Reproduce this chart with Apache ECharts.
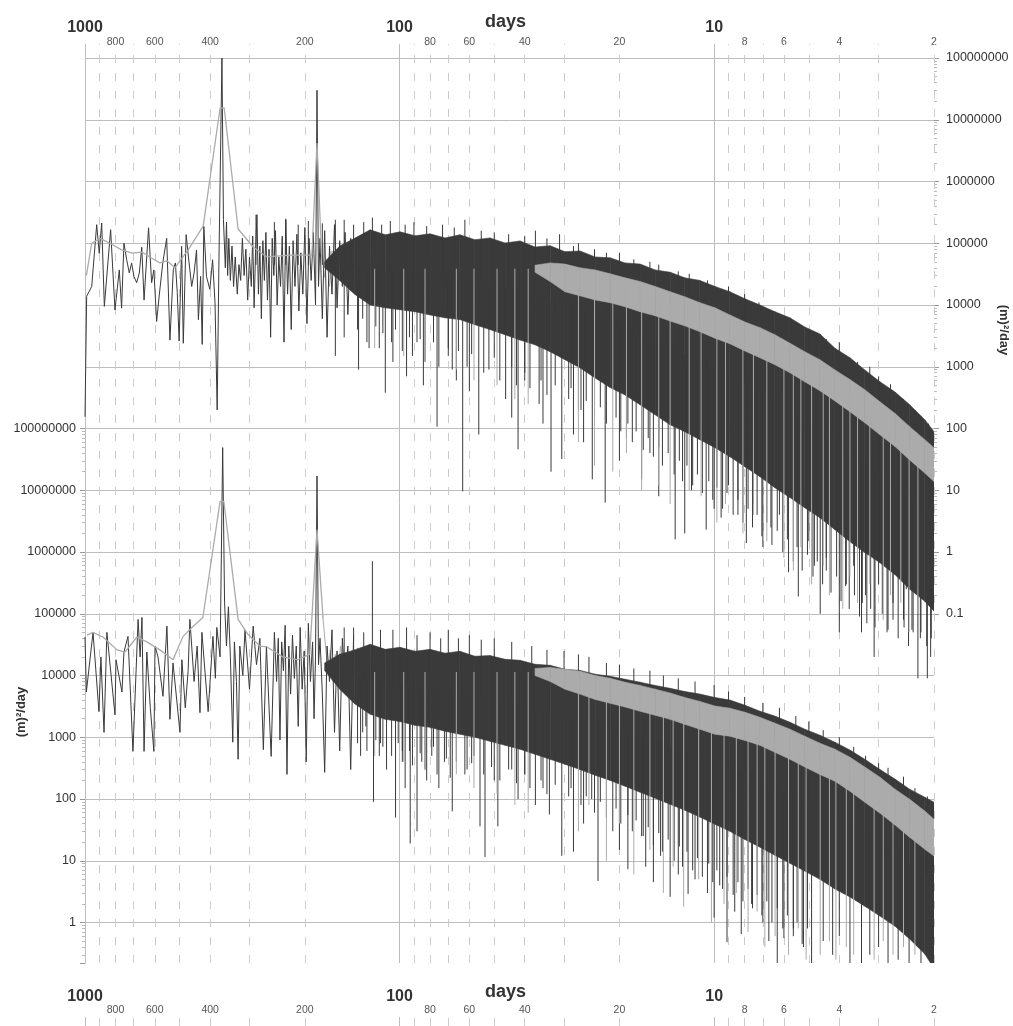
<!DOCTYPE html>
<html>
<head>
<meta charset="utf-8">
<title>spectra</title>
<script src="https://cdn.jsdelivr.net/npm/echarts@6/dist/echarts.min.js"></script>
<style>
html, body { margin: 0; padding: 0; background: #fff; }
#chart { width: 1013px; height: 1026px; }
</style>
</head>
<body>
<div id="chart"></div>
<script>
// period axis (days)
var majorDays = [1000, 100, 10];
var minorDays = [900, 800, 700, 600, 500, 400, 300, 200, 90, 80, 70, 60, 50, 40, 30, 20, 9, 8, 7, 6, 5, 4, 3, 2];
var minorDayLabels = [800, 600, 400, 200, 80, 60, 40, 20, 8, 6, 4, 2];

// periods where the dense part of the spectra was read (upper / lower edge)
var bandDays = [173, 155, 139, 124, 111, 99.7, 89.3, 80, 71.7, 64.3, 57.6, 51.6, 46.2, 41.4, 37.1,
  33.2, 29.8, 26.7, 23.9, 21.4, 19.2, 17.2, 15.4, 13.8, 12.4, 11.1, 9.94, 8.91, 7.98, 7.15, 6.41, 5.74, 5.15, 4.61, 4.13,
  3.70, 3.32, 2.97, 2.66, 2.39, 2.14, 2.00];
var grayBandDays = [37.1, 33.2, 29.8, 26.7, 23.9, 21.4, 19.2, 17.2, 15.4, 13.8, 12.4, 11.1, 9.94, 8.91, 7.98, 7.15, 6.41,
  5.74, 5.15, 4.61, 4.13, 3.70, 3.32, 2.97, 2.66, 2.39, 2.14, 2.00];

// ---------- upper spectrum (right axis)
var topDarkLine = [[1000,155],[988,13800],[952,20000],[918,200000],[901,69000],[885,213000],[868,9500],[829,166000],[803,8300],
  [778,37000],[765,8900],[752,100000],[737,54000],[723,33000],[711,48000],[699,29000],[685,23000],[672,33000],[660,86000],
  [649,12000],[628,178000],[614,23000],[604,37000],[592,5400],[581,14000],[566,48000],[550,120000],[537,2700],[524,37000],
  [516,48000],[509,16000],[502,2600],[493,89000],[487,2400],[477,138000],[469,60000],[458,20000],[450,33000],[442,78000],
  [436,5800],[429,29000],[424,2300],[419,187000],[411,29000],[401,18000],[393,54000],[386,10700],[380,200],[375,60000],
  [367,1e8],[363,240000],[358,40000],[355,220000],[352,30000],[349,120000],[345,25000],[341,90000],[337,20000],[333,60000],
  [328,15000],[324,45000],[320,25000],[316,120000],[312,30000],[308,80000],[304,12000],[300,60000],
  [296,20000],[293,130000],[290,9000],[287,70000],[284,290000],[281,15000],[278,90000],[275,6000],[272,110000],[269,25000],
  [266,150000],[263,12000],[260,80000],[257,3000],[254,120000],[251,30000],[248,160000],[245,10000],[242,60000],[239,20000],
  [236,130000],[233,2500],[230,240000],[227,15000],[224,90000],[221,4000],[218,110000],[215,20000],[212,140000],[209,8000],
  [206,70000],[203,15000],[200,180000],[197,5000],[194,120000],[191,25000],[188,150000],[185,10000],[183,3e7],[181,20000],
  [179,120000],[176,6000],[173,160000],[170,3000],[167,90000],[164,15000],[161,200000],[158,9000],[155,110000],[152,20000],
  [149,150000],[146,7000],[143,120000],[140,25000]];
var topGrayLine = [[990,30000],[952,100000],[896,120000],[833,100000],[765,78000],[709,69000],[659,72000],[622,60000],
  [578,48000],[549,52000],[518,40000],[470,78000],[421,190000],[372,1.55e7],[361,1.55e7],[326,170000],[292,87000],
  [264,60000],[223,64000],[190,64000],[183,4.2e6],[177,64000]];
var topGrayNoise = [[177,64000],[173,28000],[170,55000],[167,20000],[164,75000],[161,35000],
  [158,18000],[155,60000],[152,30000],[149,85000],[146,22000],[143,45000],[140,16000],[137,70000],[134,30000],[131,50000],
  [128,19000],[125,65000],[122,25000],[119,90000],[116,30000],[113,20000],[110,60000],[107,28000],[104,75000],[101,17000],
  [98,50000],[95,30000],[92,80000],[89,22000],[86,55000],[83,18000],[80,60000],[77,35000],[74,70000],[71,20000],[68,45000],
  [65,25000],[62,75000],[59,18000],[56,50000],[54,28000],[52,65000],[50,20000],[48,45000],[46,24000],[44,60000],[42,26000],
  [40,48000],[38,22000],[36,50000],[34,30000]];
var topDarkHigh = [5e4, 9e4, 1.2e5, 1.65e5, 1.37e5, 1.53e5, 1.32e5, 1.42e5,
  1.22e5, 1.37e5, 1.14e5, 1.22e5, 1.01e5, 1.09e5, 8.7e4, 9.1e4, 7.3e4, 7.5e4, 6.0e4, 5.8e4, 4.8e4, 4.6e4, 3.7e4, 3.4e4,
  2.75e4, 2.5e4, 2.0e4, 1.64e4, 1.26e4, 1.0e4, 7.8e3, 6.2e3, 4.4e3, 3.4e3, 2.0e3, 1.4e3, 890, 570, 390, 243, 139, 89];
var topDarkLow = [4e4, 2.5e4, 1.5e4, 1.0e4, 9.0e3, 8.4e3, 7.8e3, 6.9e3, 6.2e3,
  5.8e3, 4.8e3, 4.0e3, 3.3e3, 2.7e3, 2.27e3, 1.75e3, 1.3e3, 960, 660, 460, 350, 243, 167, 115, 89, 66, 49, 35, 24, 16.6, 11,
  7.6, 5.2, 3.6, 2.3, 1.47, 0.98, 0.67, 0.43, 0.25, 0.16, 0.11];
var topGrayHigh = [4.4e4, 4.8e4, 4.6e4, 4.0e4, 3.7e4, 3.2e4, 2.75e4, 2.4e4, 2.0e4, 1.64e4, 1.36e4, 1.09e4, 9.0e3, 6.9e3,
  5.3e3, 4.3e3, 3.3e3, 2.4e3, 1.75e3, 1.3e3, 890, 620, 425, 270, 175, 107, 66, 49];
var topGrayLow = [3.4e4, 2.4e4, 1.64e4, 1.41e4, 1.21e4, 1.09e4, 9.4e3, 7.8e3, 6.7e3, 5.5e3, 4.6e3, 3.7e3, 2.9e3, 2.36e3,
  1.8e3, 1.4e3, 1.08e3, 800, 570, 410, 280, 187, 124, 79, 51, 31, 19, 13.8];
var topDarkSpikes = [[286,2.9e5],[250,2.2e5],[230,2.5e5],[210,2.0e5],[195,2.3e5],[176,2.1e5],[160,2.4e5],
  [150,2.4e5],[140,2.0e5],[130,2.2e5],[122,2.6e5],[114,2.0e5],[107,2.3e5],[96,2.0e5],[90,2.2e5],[82,1.9e5],[73,2.0e5],
  [67,1.8e5],[62,2.4e5],[55,1.6e5],[50,1.5e5],[45,1.4e5],[40,1.3e5],[37,1.6e5],[34,1.2e5],[31,1.4e5],[28,9e4],[27,1.0e5],
  [24,8e4],[22,7e4],[20,7e4],[18,5.5e4],[16,5e4],[15,4.5e4],[13,3.5e4],[12,3.2e4],[10.5,2.5e4],[9,2e4],[8,1.5e4],
  [7.2,1.1e4],[6.5,8e3],[5.8,6e3],[5,4e3],[4.4,2.8e3],[4,2.5e3],[3.5,1.2e3],[3.2,1.0e3],[3,700],[2.75,520],[2.5,300],
  [2.3,200],[2.2,160],[2.08,120],
  [111,380],[76,107],[63,9.6],[56,80],[42,46],[33,20],[30.5,32],[24.4,15],[22.2,6.3],[13.3,1.6],[12.4,2],[10.6,2.3],
  [9.5,3.6],[7.9,1.4],[7.0,1.2],[5.8,0.47],[5.4,0.19],[4.6,0.10],[4.0,0.05],[3.4,0.05],[3.1,0.02],[2.8,0.055],[2.35,0.055],
  [2.25,0.009],[2.1,0.009],[160,1500],[150,3000],[135,900],[125,2000],[105,1200],[95,700],[88,2500],[84,500],[70,1500],
  [66,600],[60,400],[52,900],[46,300],[44,150],[40,600],[36,250],[35,120],[28,80],[27,200],[26,60],[20,30],[19,70],[17,15],
  [16,40],[15,8],[11.8,10],[10,5],[9,12],[8.4,4],[7.5,6],[6.6,2.5],[6.2,4],[5,1.5],[4.8,0.6],[4.4,0.8],[3.8,0.3],[3.6,0.6],
  [3.3,0.2],[3.0,0.3],[2.7,0.15],[2.5,0.08],[2.45,0.25],[2.2,0.05],[2.05,0.02]];
var topDarkFuzz = [[136,4000],[131,6000],[127,2500],[119,4500],[116,2000],[113,3500],[106,2500],[103,4000],[98,1800],
  [93,3000],[91,1500],[86,2800],[83,1200],[78,2500],[75,1000],[70,2000],[68,900],[65,1800],[61,1000],[59,1600],[54,800],
  [50,1400],[48,600],[44,1000],[42.5,500],[40,800],[38.5,450],[35.5,600],[34,350],[32,500],[29,300],[28.5,450],[26.5,200],
  [25.5,280],[24,150],[23,220],[22,120],[20.5,150],[19.8,90],[18.8,120],[18.2,60],[17.7,90],[16.8,45],[16.2,70],[15.6,35],
  [15,50],[14.6,25],[14,40],[13.4,18],[12.9,30],[12.6,14],[12.2,25],[11.7,12],[11.3,18],[10.9,9],[10.4,14],[10.1,7],
  [9.8,11],[9.4,5],[9.1,9],[8.7,4],[8.4,7],[8.1,3],[7.8,5],[7.55,2.5],[7.3,4],[7.05,1.8],[6.8,3],[6.55,1.3],[6.3,2.2],
  [6.05,1],[5.85,1.6],[5.6,0.7],[5.45,1.2],[5.25,0.5],[5.05,0.9],[4.85,0.4],[4.7,0.7],[4.52,0.3],[4.4,0.5],[4.25,0.22],
  [4.08,0.4],[3.95,0.16],[3.82,0.28],[3.72,0.12],[3.58,0.2],[3.45,0.09],[3.38,0.15],[3.27,0.07],[3.18,0.12],[3.08,0.06],
  [2.92,0.1],[2.82,0.05],[2.7,0.08],[2.6,0.04],[2.49,0.06],[2.41,0.03],[2.33,0.05],[2.21,0.04],[2.11,0.03],[2.04,0.04]];
var topGraySpikes = [[120,2000],[97,1500],[83,1200],[66,900],[58,600],[49,500],[43,300],[39,250],
  [27,60],[24,25],[21,20],[19,40],[17,10],[15,12],[13.8,6],[12,10],[11,8],[9.8,3],[9.2,6],[8.1,2],[7.5,4],
  [6.8,1.5],[6.0,0.8],[5.6,0.5],[5.3,1.2],[4.9,0.3],[4.5,0.6],[4.3,0.2],[3.9,0.12],[3.7,0.4],[3.5,0.15],[3.2,0.3],[2.9,0.08],
  [2.75,0.2],[2.55,0.15],[2.4,0.05],[2.25,0.1]];

// ---------- lower spectrum (left axis)
var botDarkLine = [[1000,42000],[990,5400],[943,50000],[903,2600],[890,20000],[870,1200],[852,50000],[803,2300],[797,18000],
  [763,5400],[752,24000],[730,43000],[704,590],[678,81000],[668,20000],[659,87000],[649,590],[636,24000],[620,3000],[604,590],
  [599,30000],[586,20000],[565,4600],[549,63000],[537,1950],[525,16000],[499,1200],[492,18000],[480,3000],[470,12000],
  [464,81000],[450,8000],[440,30000],[431,2500],[425,50000],[406,2600],[392,43000],[385,9000],[381,60000],[372,20000],
  [365,4.9e7],[360,150000],[355,30000],[350,130000],[345,20000],[339,830],[335,35000],[330,8000],[326,440],[322,30000],
  [315,10000],[310,55000],[300,6000],[292,63000],[285,15000],[278,40000],[271,630],[265,30000],[256,490],[250,50000],
  [246,8000],[243,40000],[240,900],[237,35000],[234,12000],[231,65000],[228,250],[225,30000],[222,5000],[219,45000],
  [216,9000],[213,30000],[210,1500],[207,60000],[204,6000],[201,25000],[198,400],[195,70000],[192,8000],[189,35000],
  [187,2000],[185,20000],[183,1.7e7],[181,15000],[179,40000],[176,5000],[173,270],[170,30000],[167,8000],[164,55000],
  [161,1200],[158,25000],[155,600],[152,40000],[149,7000],[146,30000],[143,300],[140,45000]];
var botGrayLine = [[985,45000],[943,50000],[877,42000],[791,26000],[746,24000],[684,42000],[636,35000],[578,26000],
  [525,18000],[488,43000],[457,60000],[422,87000],[372,6.6e6],[362,6.6e6],[326,81000],[303,46000],[278,30000],[264,29000],
  [235,20000],[211,18000],[193,22000],[183,2.3e6],[175,81000]];
var botGrayNoise = [[175,81000],[172,30000],[169,12000],[166,26000],[163,8000],[160,22000],
  [157,11000],[154,30000],[151,9000],[148,18000],[145,7000],[142,25000],[139,12000],[136,28000],[133,8000],[130,20000],
  [127,10000],[124,27000],[121,7500],[118,19000],[115,11000],[112,26000],[109,8000],[106,21000],[103,6500],[100,24000],
  [97,10000],[94,20000],[91,7000],[88,25000],[85,9000],[82,18000],[79,6500],[76,22000],[73,9500],[70,17000],[67,6000],
  [64,21000],[61,8500],[58,19000],[55,7000],[52,16000],[50,9000],[48,18000],[46,6500],[44,15000],[42,8000],[40,16000],
  [38,7500],[36,14000],[34,9000]];
var botDarkHigh = [1.6e4, 2.2e4, 2.6e4, 3.2e4, 2.65e4, 2.86e4, 2.47e4, 2.65e4, 2.3e4,
  2.47e4, 2.05e4, 2.1e4, 1.83e4, 1.76e4, 1.52e4, 1.46e4, 1.26e4, 1.21e4, 1.05e4, 9.7e3, 8.7e3, 7.8e3, 6.9e3, 6.2e3, 5.5e3,
  5.0e3, 4.4e3, 4.0e3, 3.3e3, 2.64e3, 2.2e3, 1.75e3, 1.35e3, 1.08e3, 830, 620, 440, 300, 210, 144, 107, 89];
var botDarkLow = [1.2e4, 6e3, 3.5e3, 2.36e3, 1.95e3, 1.8e3, 1.56e3, 1.45e3, 1.25e3,
  1.12e3, 1.0e3, 860, 740, 640, 530, 440, 365, 300, 243, 200, 161, 129, 103, 82, 66, 51, 39, 30, 22, 16.6, 12.3, 9.1, 6.8,
  5.0, 3.5, 2.6, 1.84, 1.27, 0.87, 0.54, 0.31, 0.18];
var botGrayHigh = [1.3e4, 1.35e4, 1.26e4, 1.17e4, 1.0e4, 9.0e3, 7.8e3, 6.9e3, 6.0e3, 5.2e3, 4.4e3, 3.8e3, 3.2e3, 2.95e3,
  2.54e3, 2.1e3, 1.69e3, 1.35e3, 1.04e3, 800, 640, 475, 330, 225, 144, 99, 64, 47];
var botGrayLow = [1.0e4, 8.0e3, 6.0e3, 5.0e3, 4.1e3, 3.55e3, 3.1e3, 2.64e3, 2.27e3, 1.95e3, 1.62e3, 1.35e3, 1.12e3, 1.04e3,
  890, 740, 570, 440, 330, 250, 194, 134, 89, 59, 38, 24, 15.4, 11.9];
var botDarkSpikes = [[122,7.1e5],[150,6e4],
  [140,6e4],[130,5e4],[115,5.5e4],[105,5.5e4],[95,6e4],[88,4.5e4],[80,5e4],[74,4e4],[70,5.5e4],[65,4e4],[60,4.5e4],
  [55,3.8e4],[50,4e4],[44,3.5e4],[38,3e4],[34,2.6e4],[30,2.5e4],[27,2.2e4],[25,2e4],[22,1.6e4],[20,1.5e4],[18,1.3e4],
  [16,1.2e4],[14.5,1e4],[13,9e3],[11.5,8e3],[10,7e3],[9,5.5e3],[8,4.5e3],[7,3.6e3],[6.2,3e3],[5.5,2.2e3],[5,1.8e3],
  [4.5,1.3e3],[4,1e3],[3.6,700],[3.3,500],[3,380],[2.8,320],[2.5,230],[2.3,150],[2.1,110],
  [121,90],[103,50],[92.5,19],[88,30],[68,63],[55.5,36],[53.5,11.5],[48.7,36],[33.4,56],[30.5,12],[28,14],[23.4,4.7],
  [18.8,7.3],[15.6,4.5],[13.8,2.6],[12.1,2.9],[10,1.2],[9.1,0.48],[8.2,0.65],[6.3,0.1],[6.0,0.56],[4.9,0.1],[4.2,0.3],
  [3.7,0.2],[3.4,0.2],[2.8,0.1],[2.4,0.1],[133,500],[128,1500],[115,800],[110,300],[98,600],[96,150],[85,400],[82,200],
  [78,700],[75,150],[72,400],[62,250],[58,500],[50,200],[45,300],[42,100],[40,250],[37,80],[35,150],[26,40],[24.5,100],
  [21,30],[20,15],[17,25],[16.5,8],[14.8,12],[13,6],[11.5,5],[10.5,3],[9.6,4],[8.6,1.5],[7.6,2],[7,1],[6.7,0.5],[5.6,0.8],
  [5.2,0.4],[4.5,0.5],[4,0.6],[3.2,0.3],[3,0.4],[2.6,0.25],[2.2,0.2]];
var botDarkFuzz = [[136,800],[131,1200],[127,600],[119,900],[116,500],[113,700],[106,500],[101,800],[98,400],[93,600],
  [91,350],[86,550],[83,300],[79,500],[76,250],[71,450],[69,220],[66,400],[61,300],[59,380],[54,250],[51,330],[48,200],
  [44,300],[42.5,180],[40,250],[38.5,150],[35.5,200],[34,120],[32,170],[29,110],[28.5,150],[26.5,80],[25.5,110],[24,60],
  [23,90],[22,50],[20.5,70],[19.8,40],[18.8,55],[18.2,30],[17.7,45],[16.8,25],[16.2,35],[15.6,18],[15,28],[14.6,14],[14,22],
  [13.4,10],[12.9,17],[12.6,8],[12.2,14],[11.7,7],[11.3,11],[10.9,5.5],[10.4,9],[10.1,4.5],[9.8,7],[9.4,3.5],[9.1,5.5],
  [8.7,2.8],[8.4,4.5],[8.1,2.2],[7.8,3.5],[7.55,1.7],[7.3,2.8],[7.05,1.3],[6.8,2.2],[6.55,1],[6.3,1.7],[6.05,0.8],
  [5.85,1.3],[5.6,0.6],[5.45,1],[5.25,0.45],[5.05,0.8]];
var botGraySpikes = [[120,500],[97,400],[83,300],[66,250],[58,150],[49,120],[43,80],[39,60],
  [27,30],[25,80],[22,10],[20,40],[18,6],[16,15],[14.5,3],[13.5,8],[12.5,1.8],[11.2,5],[10.2,1],[9.3,2],
  [8.5,3],[7.8,0.7],[7.3,1.5],[6.9,0.4],[6.4,0.6],[5.8,0.3],[5.4,0.8],[5.1,0.25],[4.6,0.3],[4.3,0.5],[4.1,0.25],[3.8,0.4],
  [3.6,0.3],[3.1,0.25],[2.9,0.5],[2.7,0.3],[2.5,0.4],[2.3,0.3]];

var DARK = '#3a3a3a';
var GRAY = '#ababab';
var FONT = 'Arial, "Liberation Sans", sans-serif';

function decadeLabel(v) {
  var e = Math.log10(v);
  if (Math.abs(e - Math.round(e)) > 1e-6) return '';
  e = Math.round(e);
  return e >= 0 ? String(Math.pow(10, e)) : Math.pow(10, e).toFixed(-e);
}

function nearestIndex(days, d) {
  var best = 0, bestDist = Infinity;
  for (var i = 0; i < days.length; i++) {
    var dist = Math.abs(Math.log(days[i] / d));
    if (dist < bestDist) { bestDist = dist; best = i; }
  }
  return best;
}

function dayAxis(idx) {
  return { gridIndex: idx, type: 'log', logBase: 10, min: 2, max: 1000, inverse: true, show: false };
}

function dayGridLines(idx) {
  var items = majorDays.map(function (d) {
    return { xAxis: d, lineStyle: { type: 'solid', color: '#bdbdbd', width: 1 } };
  }).concat(minorDays.map(function (d) {
    return { xAxis: d, lineStyle: { type: [8, 10], color: '#cccccc', width: 1 } };
  }));
  return {
    type: 'line', xAxisIndex: idx, yAxisIndex: idx, data: [], silent: true, z: 1,
    markLine: { symbol: ['none', 'none'], silent: true, animation: false, z: 1, label: { show: false }, data: items }
  };
}

function band(idx, days, high, low, color) {
  return {
    type: 'custom', xAxisIndex: idx, yAxisIndex: idx, clip: true, silent: true, z: 3,
    data: days.map(function (d, i) { return [d, high[i], low[i]]; }),
    encode: { x: 0, y: [1, 2] },
    renderItem: function (params, api) {
      var i = params.dataIndex;
      if (i === 0) return null;
      var pts = [api.coord([days[i - 1], high[i - 1]]), api.coord([days[i], high[i]]),
        api.coord([days[i], low[i]]), api.coord([days[i - 1], low[i - 1]])];
      return { type: 'polygon', shape: { points: pts }, style: { fill: color, stroke: color, lineWidth: 0.6 } };
    }
  };
}

function spikes(idx, list, days, high, low, color) {
  return {
    type: 'custom', xAxisIndex: idx, yAxisIndex: idx, clip: true, silent: true, z: 3,
    data: list, encode: { x: 0, y: 1 },
    renderItem: function (params, api) {
      var d = api.value(0), v = api.value(1);
      var j = nearestIndex(days, d);
      var base = Math.sqrt(high[j] * low[j]);
      var a = api.coord([d, v]), b = api.coord([d, base]);
      return { type: 'line', shape: { x1: a[0], y1: a[1], x2: b[0], y2: b[1] }, style: { stroke: color, lineWidth: 1 } };
    }
  };
}

function trace(idx, data, color, width, z) {
  return {
    type: 'line', xAxisIndex: idx, yAxisIndex: idx, data: data, showSymbol: false, symbol: 'none',
    silent: true, z: z, lineStyle: { color: color, width: width }
  };
}

var decade = 61.75;
var nameGraphics = [
  { type: 'text', x: 21, y: 712, rotation: Math.PI / 2,
    style: { text: '(m)²/day', font: 'bold 13px ' + FONT, fill: '#333', align: 'center', verticalAlign: 'middle' } },
  { type: 'text', x: 1004, y: 330, rotation: -Math.PI / 2,
    style: { text: '(m)²/day', font: 'bold 13px ' + FONT, fill: '#333', align: 'center', verticalAlign: 'middle' } }
];

var chart = echarts.init(document.getElementById('chart'));
chart.setOption({
  animation: false,
  backgroundColor: '#ffffff',
  textStyle: { fontFamily: FONT },
  grid: [
    { left: 85, right: 79, top: 44, bottom: 63 },
    { left: 85, right: 79, top: 58, height: decade * 9 },
    { left: 85, right: 79, top: 58, height: decade * 14 },
    { left: 85, right: 79, top: 58 + decade * 6, bottom: 63 },
    { left: 85, right: 79, top: 1017, bottom: 0 }
  ],
  xAxis: [dayAxis(0), dayAxis(1), dayAxis(2), dayAxis(3), dayAxis(4)],
  yAxis: [
    { gridIndex: 0, type: 'value', min: 0, max: 1, show: false },
    {
      gridIndex: 1, type: 'log', logBase: 10, min: 0.1, max: 1e8, position: 'right',
      axisLine: { show: false },
      axisTick: { show: true, length: 5, lineStyle: { color: '#999' } },
      minorTick: { show: true, splitNumber: 9, length: 3, lineStyle: { color: '#bbb' } },
      axisLabel: { margin: 12, fontSize: 12.5, color: '#333', fontFamily: FONT, formatter: decadeLabel },
      splitLine: { show: true, lineStyle: { color: '#bdbdbd', width: 1 } }
    },
    { gridIndex: 2, type: 'log', logBase: 10, min: 1e-6, max: 1e8, show: false },
    {
      gridIndex: 3, type: 'log', logBase: 10, min: Math.pow(10, 8 - (963 - 58 - decade * 6) / decade), max: 1e8,
      position: 'left',
      axisLine: { show: true, lineStyle: { color: '#aaa' } },
      axisTick: { show: true, length: 5, lineStyle: { color: '#999' } },
      minorTick: { show: true, splitNumber: 9, length: 3, lineStyle: { color: '#bbb' } },
      axisLabel: { margin: 9, fontSize: 12.5, color: '#333', fontFamily: FONT, formatter: decadeLabel, showMinLabel: false },
      splitLine: { show: true, showMinLine: false, lineStyle: { color: '#bdbdbd', width: 1 } }
    },
    { gridIndex: 4, type: 'value', min: 0, max: 1, show: false }
  ],
  graphic: nameGraphics,
  series: [
    dayGridLines(0),
    dayGridLines(4),
    trace(2, topGrayNoise, GRAY, 1, 2),
    band(2, bandDays, topDarkHigh, topDarkLow, DARK),
    spikes(2, topDarkSpikes, bandDays, topDarkHigh, topDarkLow, DARK),
    spikes(2, topDarkFuzz, bandDays, topDarkHigh, topDarkLow, DARK),
    trace(2, topDarkLine, DARK, 1, 4),
    band(2, grayBandDays, topGrayHigh, topGrayLow, GRAY),
    trace(2, topGrayLine, GRAY, 1.3, 5),
    spikes(2, topGraySpikes, grayBandDays, topGrayHigh, topGrayLow, GRAY),
    trace(3, botGrayNoise, GRAY, 1, 2),
    band(3, bandDays, botDarkHigh, botDarkLow, DARK),
    spikes(3, botDarkSpikes, bandDays, botDarkHigh, botDarkLow, DARK),
    spikes(3, botDarkFuzz, bandDays, botDarkHigh, botDarkLow, DARK),
    trace(3, botDarkLine, DARK, 1, 4),
    band(3, grayBandDays, botGrayHigh, botGrayLow, GRAY),
    trace(3, botGrayLine, GRAY, 1.3, 5),
    spikes(3, botGraySpikes, grayBandDays, botGrayHigh, botGrayLow, GRAY)
  ]
});

// period labels above the top frame and above the bottom tick strip, placed through the x axis
function dayLabels(axisIndex, yMajor, yMinor, yName) {
  var out = [];
  majorDays.forEach(function (d) {
    out.push({ type: 'text', x: chart.convertToPixel({ xAxisIndex: axisIndex }, d), y: yMajor,
      style: { text: String(d), font: 'bold 16px ' + FONT, fill: '#333', align: 'center', verticalAlign: 'middle' } });
  });
  minorDayLabels.forEach(function (d) {
    out.push({ type: 'text', x: chart.convertToPixel({ xAxisIndex: axisIndex }, d), y: yMinor,
      style: { text: String(d), font: '10.5px ' + FONT, fill: '#555', align: 'center', verticalAlign: 'middle' } });
  });
  var mid = (chart.convertToPixel({ xAxisIndex: axisIndex }, 2) + chart.convertToPixel({ xAxisIndex: axisIndex }, 1000)) / 2;
  out.push({ type: 'text', x: mid - 4, y: yName,
    style: { text: 'days', font: 'bold 18px ' + FONT, fill: '#333', align: 'center', verticalAlign: 'middle' } });
  return out;
}
chart.setOption({ graphic: nameGraphics.concat(dayLabels(0, 28, 42, 22), dayLabels(4, 997, 1010, 992)) });
</script>
</body>
</html>
